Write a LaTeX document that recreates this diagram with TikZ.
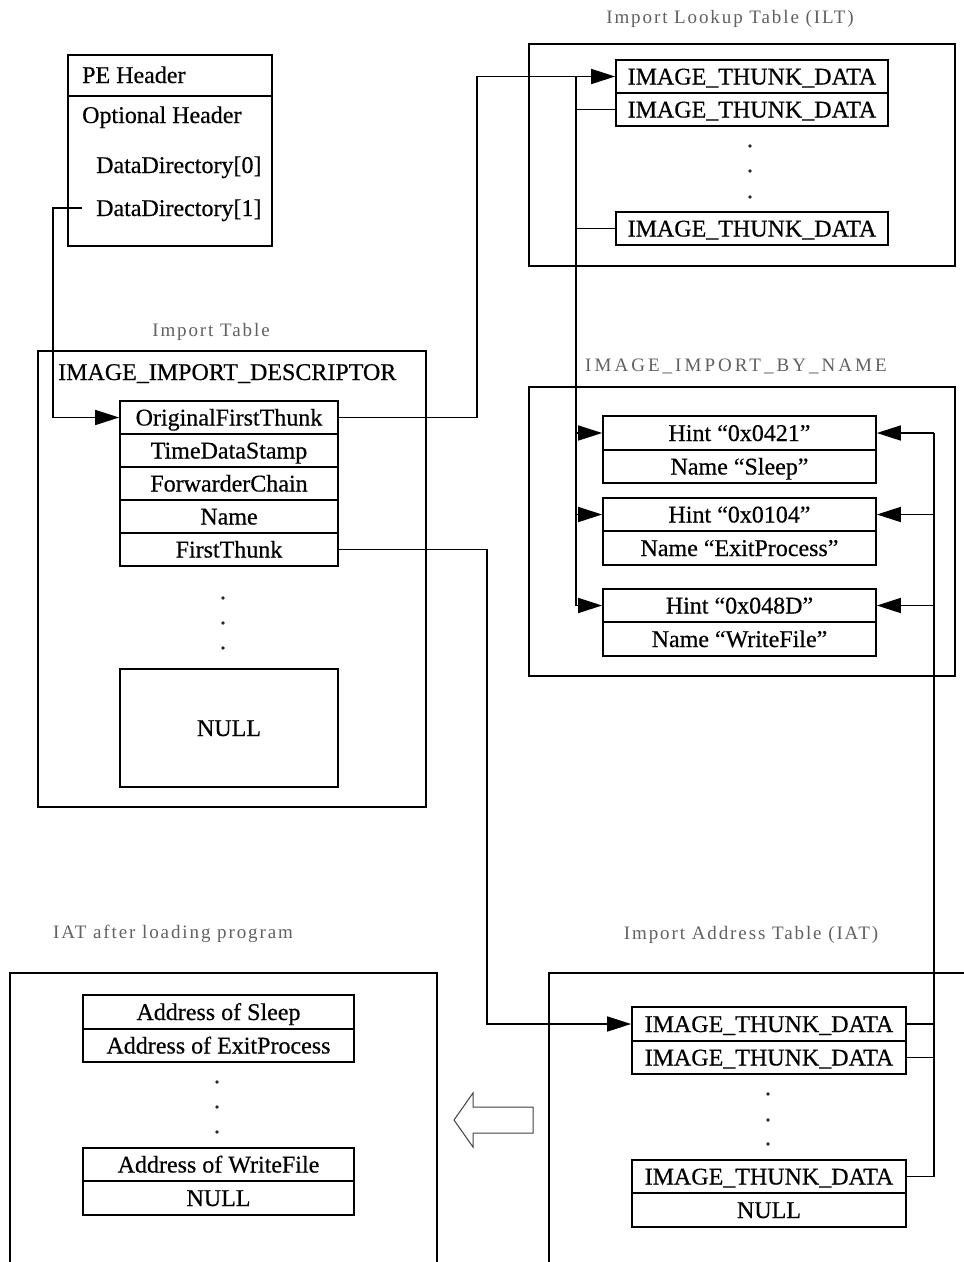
\documentclass[tikz,border=0pt]{standalone}
\usepackage{fontspec}
\setmainfont{Liberation Serif}[FakeBold=0.5]
\newfontfamily\headfont[LetterSpace=10]{Liberation Serif}
\newfontfamily\headcapsfont[LetterSpace=16]{Liberation Serif}
\usetikzlibrary{arrows.meta}

\tikzset{
  every node/.style={font=\fontsize{24}{28}\selectfont, text=black},
  cell/.style={draw, line width=1.7pt, inner sep=0pt, text height=16pt, text depth=0pt},
  plain/.style={inner sep=0pt, text height=16pt, text depth=0pt},
  outerbox/.style={draw, line width=1.5pt},
  heading/.style={inner sep=0pt, text=black!62, font=\headfont\fontsize{19}{23}\selectfont},
  headingcaps/.style={inner sep=0pt, text=black!62, font=\headcapsfont\fontsize{19}{23}\selectfont},
  wire/.style={line width=1.6pt},
  arrowto/.style={-{Triangle[length=24pt,width=15pt]}},
  dot/.style={fill=black!85},
  descr/.style={cell, minimum width=218pt, minimum height=33pt},
  thunk/.style={cell, minimum width=272pt, minimum height=33pt},
  hintc/.style={cell, minimum width=273pt, minimum height=33.5pt},
  iatc/.style={cell, minimum width=274pt, minimum height=33.5pt},
  addrc/.style={cell, minimum width=271pt, minimum height=33.5pt}
}

\begin{document}
\begin{tikzpicture}[x=1pt, y=-1pt]
\useasboundingbox[fill=white] (0,0) rectangle (964,1262);

% ---------- PE header ----------
\node[draw, line width=1.7pt, minimum width=204pt, minimum height=191pt, inner sep=0pt] (pe) at (170,150.5) {};
\draw[line width=1.7pt] (pe.west |- 0,96) -- (pe.east |- 0,96);
\node[plain, anchor=west] (pehdr) at (82,75) {PE Header};
\node[plain, anchor=west] (opthdr) at (82,115) {Optional Header};
\node[plain, anchor=west] (dd0) at (96,165) {DataDirectory[0]};
\node[plain, anchor=west] (dd1) at (96,208) {DataDirectory[1]};

% ---------- Import table ----------
\node[heading] (ithead) at (211,332) {Import Table};
\draw[outerbox] (38,351) rectangle (426,807);
\node[plain, anchor=west] (iid) at (58,372) {IMAGE\_IMPORT\_DESCRIPTOR};
\node[descr] (oft) at (229,417.5) {OriginalFirstThunk};
\node[descr] (tds) at (229,450.5) {TimeDataStamp};
\node[descr] (fwc) at (229,483.5) {ForwarderChain};
\node[descr] (nam) at (229,516.5) {Name};
\node[descr] (ft)  at (229,549.5) {FirstThunk};
\foreach \y in {598,623,648} \fill[dot] (223,\y) circle (1.9);
\node[cell, minimum width=218pt, minimum height=118pt] (itnull) at (229,728) {NULL};

% ---------- Import lookup table ----------
\node[heading] (ilthead) at (730,19) {Import Lookup Table (ILT)};
\draw[outerbox] (529,44) rectangle (955,266);
\node[thunk] (ilt1) at (752,76.5) {IMAGE\_THUNK\_DATA};
\node[thunk] (ilt2) at (752,109.5) {IMAGE\_THUNK\_DATA};
\foreach \y in {146,171,197} \fill[dot] (750,\y) circle (1.9);
\node[thunk] (iltn) at (752,228.5) {IMAGE\_THUNK\_DATA};

% ---------- Hint/Name table ----------
\node[headingcaps] (ibnhead) at (736,366) {IMAGE\_IMPORT\_BY\_NAME};
\draw[outerbox] (529,387) rectangle (955,676);
\node[hintc] (h1) at (739.5,433) {Hint “0x0421”};
\node[hintc] (n1) at (739.5,466.5) {Name “Sleep”};
\node[hintc] (h2) at (739.5,514.5) {Hint “0x0104”};
\node[hintc] (n2) at (739.5,548) {Name “ExitProcess”};
\node[hintc] (h3) at (739.5,605.5) {Hint “0x048D”};
\node[hintc] (n3) at (739.5,639) {Name “WriteFile”};

% ---------- Import address table ----------
\node[heading] (iathead) at (751,935) {Import Address Table (IAT)};
\draw[outerbox] (549,1262) -- (549,973) -- (964,973);
\node[iatc] (iat1) at (769,1024) {IMAGE\_THUNK\_DATA};
\node[iatc] (iat2) at (769,1057.5) {IMAGE\_THUNK\_DATA};
\foreach \y in {1094,1120,1144} \fill[dot] (768,\y) circle (1.9);
\node[iatc] (iatn) at (769,1176.5) {IMAGE\_THUNK\_DATA};
\node[iatc] (iatnull) at (769,1210) {NULL};

% ---------- IAT after loading ----------
\node[heading] (afthead) at (173,934) {IAT after loading program};
\draw[outerbox] (10,1262) -- (10,973) -- (437,973) -- (437,1262);
\node[addrc] (a1) at (218.5,1012) {Address of Sleep};
\node[addrc] (a2) at (218.5,1045.5) {Address of ExitProcess};
\foreach \y in {1082,1107,1132} \fill[dot] (217,\y) circle (1.9);
\node[addrc] (an) at (218.5,1164.5) {Address of WriteFile};
\node[addrc] (anull) at (218.5,1198) {NULL};

% hollow arrow: loader fills the IAT
\draw[line width=1pt, draw=black!75] (533,1107) -- (473,1107) -- (473,1093) -- (454,1120)
  -- (473,1147) -- (473,1133) -- (533,1133) -- cycle;

% ---------- connectors ----------
\coordinate (ddturn) at (53,417.5);
\draw[wire, arrowto] ([xshift=-14pt]dd1.west) -| (ddturn) -- (oft.west);

\coordinate (oftup) at (477,76.5);
\draw[wire, arrowto] (oft.east) -| (oftup) -- (ilt1.west);

% thunk bus on the left of the hint/name entries
\coordinate (bustop) at (576,76.5);
\draw[wire] (bustop) -- (bustop |- h3.west);
\draw[wire] (bustop |- ilt2.west) -- (ilt2.west);
\draw[wire] (bustop |- iltn.west) -- (iltn.west);
\draw[wire, arrowto] (bustop |- h1.west) -- (h1.west);
\draw[wire, arrowto] (bustop |- h2.west) -- (h2.west);
\draw[wire, arrowto] (bustop |- h3.west) -- (h3.west);

% first thunk into the IAT
\coordinate (ftdown) at (487,1024);
\draw[wire, arrowto] (ft.east) -| (ftdown) -- (iat1.west);

% IAT bus on the right
\coordinate (rbus) at (934,433);
\draw[wire] (rbus) -- (rbus |- iatn.east);
\draw[wire, arrowto] (rbus |- h1.east) -- (h1.east);
\draw[wire, arrowto] (rbus |- h2.east) -- (h2.east);
\draw[wire, arrowto] (rbus |- h3.east) -- (h3.east);
\draw[wire] (iat1.east) -- (rbus |- iat1.east);
\draw[wire] (iat2.east) -- (rbus |- iat2.east);
\draw[wire] (iatn.east) -- (rbus |- iatn.east);
\end{tikzpicture}
\end{document}
